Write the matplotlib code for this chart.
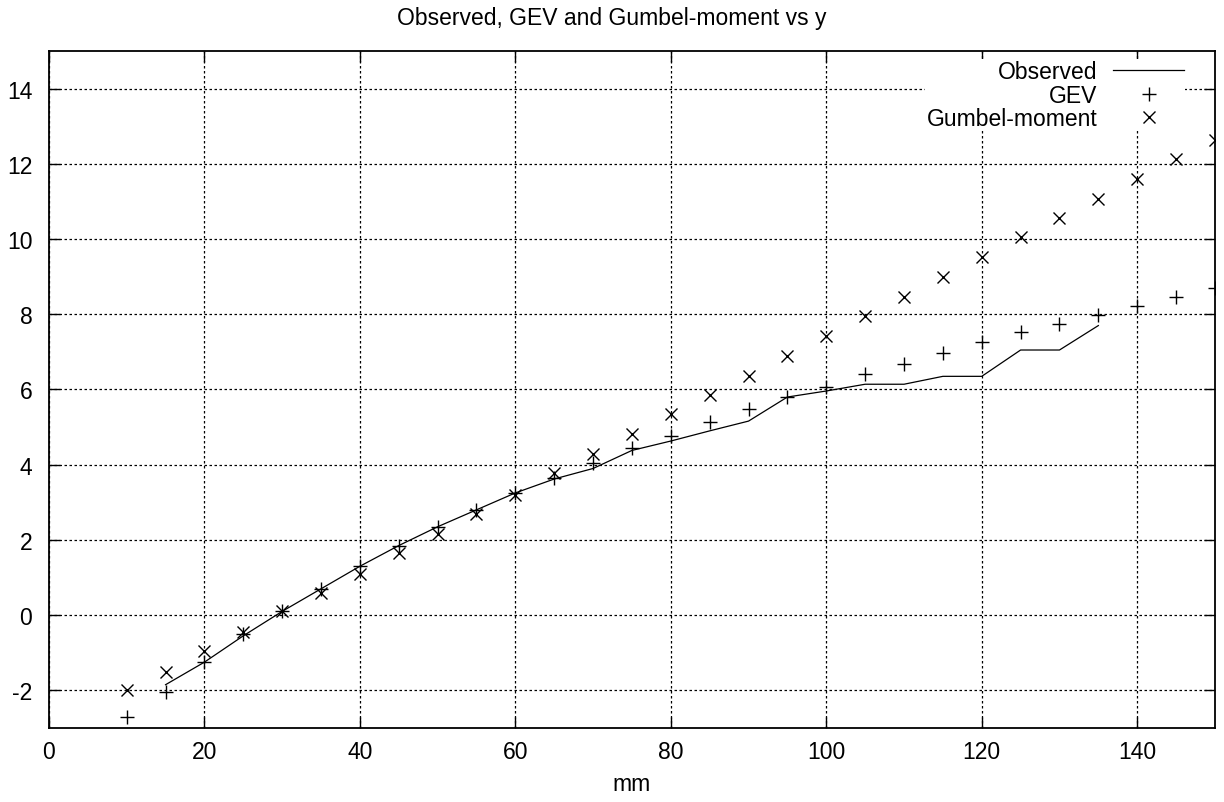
import matplotlib
matplotlib.use("Agg")
import matplotlib.pyplot as plt

plt.rcParams['font.family'] = ['Liberation Sans', 'DejaVu Sans']
plt.rcParams['axes.unicode_minus'] = False

obs_x = [15, 20, 25, 30, 35, 40, 45, 50, 55, 60, 65, 70, 75, 80, 85, 90, 95,
         100, 105, 110, 115, 120, 125, 130, 135]
obs_y = [-1.85, -1.25, -0.55, 0.1, 0.7, 1.3, 1.85, 2.35, 2.8, 3.25, 3.62, 3.9,
         4.38, 4.63, 4.9, 5.16, 5.8, 5.96, 6.14, 6.14, 6.35, 6.35, 7.05, 7.05, 7.7]

gev_x = [10, 15, 20, 25, 30, 35, 40, 45, 50, 55, 60, 65, 70, 75, 80, 85, 90, 95,
         100, 105, 110, 115, 120, 125, 130, 135, 140, 145, 150]
gev_y = [-2.7, -2.05, -1.25, -0.5, 0.1, 0.7, 1.3, 1.85, 2.35, 2.8, 3.25, 3.65,
         4.05, 4.45, 4.77, 5.13, 5.48, 5.8, 6.07, 6.41, 6.68, 6.97, 7.26, 7.53,
         7.74, 7.98, 8.22, 8.46, 8.7]

gum_x = gev_x
gum_y = [-2.0, -1.5, -0.95, -0.45, 0.1, 0.6, 1.1, 1.65, 2.15, 2.7, 3.2, 3.78,
         4.28, 4.81, 5.35, 5.85, 6.36, 6.89, 7.42, 7.95, 8.46, 9.0, 9.52, 10.05,
         10.56, 11.06, 11.6, 12.13, 12.63]

xticks = [0, 20, 40, 60, 80, 100, 120, 140]
yticks = [-2, 0, 2, 4, 6, 8, 10, 12, 14]

FS = 16.5

fig = plt.figure(figsize=(12.24, 8.03), dpi=100)
ax = fig.add_axes([0.040, 0.0922, 0.9526, 0.843])

ax.plot(obs_x, obs_y, color='black', lw=0.9, label='Observed', zorder=3)
ax.plot(gev_x, gev_y, ls='none', marker='+', ms=9.5, mew=1.0, color='black',
        label='GEV', zorder=3)
ax.plot(gum_x, gum_y, ls='none', marker='x', ms=8.5, mew=1.0, color='black',
        label='Gumbel-moment', zorder=3)

ax.set_xlim(0, 150)
ax.set_ylim(-3, 15)
ax.set_xticks(xticks)
ax.set_yticks(yticks)
ax.tick_params(direction='in', length=8, width=1, top=True, right=True,
               labelsize=FS, colors='black')
ax.tick_params(axis='y', pad=12)
ax.tick_params(axis='x', pad=9)
ax.grid(True, color='black', ls=(0, (2, 2)), lw=0.9)
for s in ax.spines.values():
    s.set_linewidth(1.3)
    s.set_zorder(6)

fig.text(0.5, 1 - 18 / 803, 'Observed, GEV and Gumbel-moment vs y', fontsize=FS,
         ha='center', va='center')
ax.set_xlabel('mm', fontsize=FS, labelpad=6)

leg = ax.legend(loc='upper right', bbox_to_anchor=(0.9845, 1.005), markerfirst=False,
                frameon=True, fontsize=FS, handlelength=3.1, handletextpad=0.7,
                labelspacing=0.02, borderpad=0.05, numpoints=1, fancybox=False)
leg.get_frame().set_facecolor('white')
leg.get_frame().set_edgecolor('none')
leg.get_frame().set_alpha(1)

fig.savefig('out.png', dpi=100)
